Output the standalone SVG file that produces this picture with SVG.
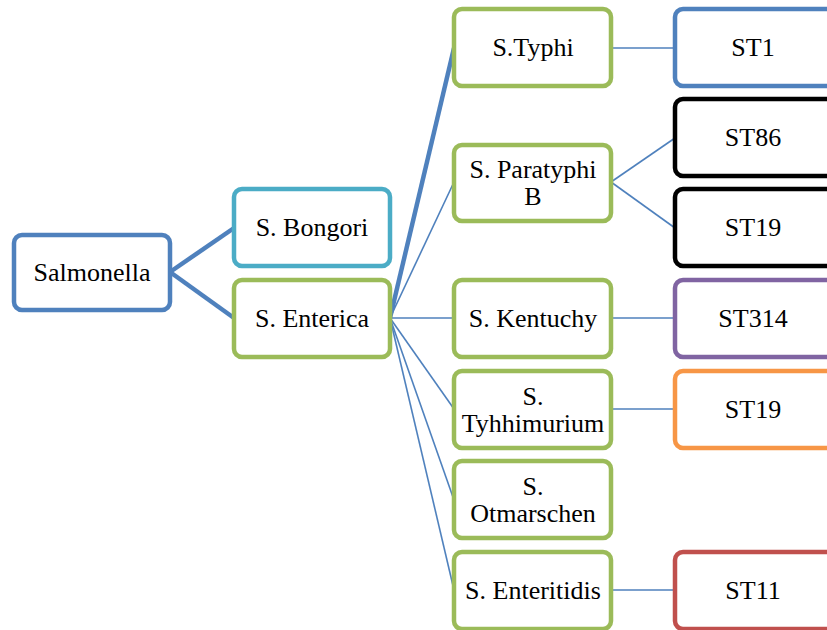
<svg xmlns="http://www.w3.org/2000/svg" width="827" height="630" viewBox="0 0 827 630">
<style>
.box{fill:#fff;stroke-width:4.5}
.t{font-family:"Liberation Serif","Times New Roman",serif;font-size:26px;fill:#000;text-anchor:middle}
.thick{stroke:#4F81BD;stroke-width:4.5;fill:none}
.thin{stroke:#4F81BD;stroke-width:1.6;fill:none}
.g{stroke:#9BBB59}
</style>
<rect width="827" height="630" fill="#fff"/>
<g id="connectors">
<line class="thick" x1="170" y1="272" x2="234" y2="228"/>
<line class="thick" x1="170" y1="272" x2="234" y2="318"/>
<line class="thick" x1="390" y1="318" x2="454" y2="48"/>
<line class="thin" x1="390" y1="318" x2="454" y2="182"/>
<line class="thin" x1="390" y1="318" x2="454" y2="318"/>
<line class="thin" x1="390" y1="318" x2="454" y2="409"/>
<line class="thin" x1="390" y1="318" x2="454" y2="500"/>
<line class="thin" x1="390" y1="318" x2="454" y2="590"/>
<line class="thin" x1="611" y1="48" x2="675" y2="48"/>
<line class="thin" x1="611" y1="182" x2="675" y2="138"/>
<line class="thin" x1="611" y1="182" x2="675" y2="228"/>
<line class="thin" x1="611" y1="318" x2="675" y2="318"/>
<line class="thin" x1="611" y1="409" x2="675" y2="409"/>
<line class="thin" x1="611" y1="590" x2="675" y2="590"/>
</g>
<g id="salmonella"><rect class="box" x="14" y="235" width="156" height="75" rx="8" stroke="#4F81BD"/><text class="t" x="92" y="281">Salmonella</text></g>
<g id="bongori"><rect class="box" x="234" y="189" width="156" height="77" rx="8" stroke="#4BACC6"/><text class="t" x="312" y="236">S. Bongori</text></g>
<g id="enterica"><rect class="box g" x="234" y="280" width="156" height="77" rx="8"/><text class="t" x="312" y="327">S. Enterica</text></g>
<g id="typhi"><rect class="box g" x="454" y="9" width="157" height="77" rx="8"/><text class="t" x="533" y="56">S.Typhi</text></g>
<g id="paratyphi"><rect class="box g" x="454" y="145" width="157" height="76" rx="8"/><text class="t" x="533" y="178">S. Paratyphi</text><text class="t" x="533" y="205">B</text></g>
<g id="kentuchy"><rect class="box g" x="454" y="280" width="157" height="77" rx="8"/><text class="t" x="533" y="327">S. Kentuchy</text></g>
<g id="tyhhimurium"><rect class="box g" x="454" y="371" width="157" height="77" rx="8"/><text class="t" x="533" y="405">S.</text><text class="t" x="533" y="432">Tyhhimurium</text></g>
<g id="otmarschen"><rect class="box g" x="454" y="461" width="157" height="77" rx="8"/><text class="t" x="533" y="495">S.</text><text class="t" x="533" y="522">Otmarschen</text></g>
<g id="enteritidis"><rect class="box g" x="454" y="552" width="157" height="77" rx="8"/><text class="t" x="533" y="599">S. Enteritidis</text></g>
<g id="st1"><rect class="box" x="675" y="9" width="160" height="77" rx="8" stroke="#4F81BD"/><text class="t" x="753" y="56">ST1</text></g>
<g id="st86"><rect class="box" x="675" y="99" width="160" height="77" rx="8" stroke="#000"/><text class="t" x="753" y="146">ST86</text></g>
<g id="st19a"><rect class="box" x="675" y="189" width="160" height="77" rx="8" stroke="#000"/><text class="t" x="753" y="236">ST19</text></g>
<g id="st314"><rect class="box" x="675" y="280" width="160" height="77" rx="8" stroke="#8064A2"/><text class="t" x="753" y="327">ST314</text></g>
<g id="st19b"><rect class="box" x="675" y="371" width="160" height="77" rx="8" stroke="#F79646"/><text class="t" x="753" y="418">ST19</text></g>
<g id="st11"><rect class="box" x="675" y="552" width="160" height="77" rx="8" stroke="#C0504D"/><text class="t" x="753" y="599">ST11</text></g>
</svg>
